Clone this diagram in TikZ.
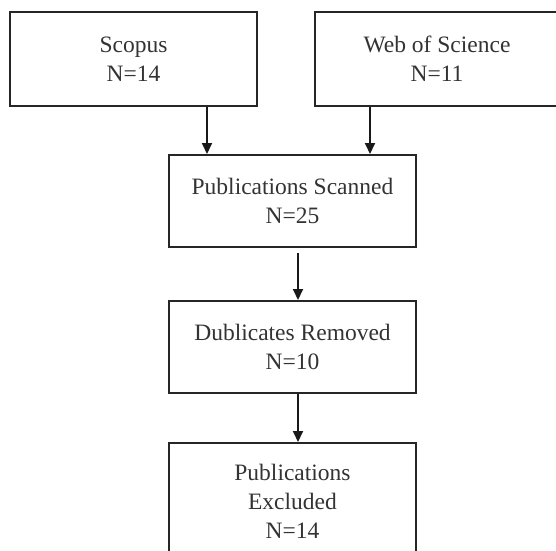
\documentclass[tikz,border=0pt]{standalone}
\usepackage{fontspec}
\setmainfont{Liberation Serif}
\usetikzlibrary{arrows.meta,calc}
\begin{document}
\begin{tikzpicture}[x=1pt,y=1pt,
  box/.style={draw=black!85,line width=2pt,fill=white,align=center,inner sep=0pt,
    font=\fontsize{23.5}{29}\selectfont,text=black!80},
  arr/.style={line width=1.8pt,draw=black!90,-{Triangle[length=11pt,width=10pt]}}]
\useasboundingbox (0,0) rectangle (556,-550);
\clip (0,0) rectangle (556,-550);
\node[box,minimum width=247,minimum height=94] (sco) at (133.5,-59) {Scopus\\N=14};
\node[box,minimum width=244,minimum height=94] (wos) at (437,-59) {Web of Science\\N=11};
\node[box,minimum width=247,minimum height=92] (scan) at (292.5,-201) {Publications Scanned\\N=25};
\node[box,minimum width=247,minimum height=92] (dub) at (292.5,-347) {Dublicates Removed\\N=10};
\node[box,minimum width=247,minimum height=117] (exc) at (292.5,-501.5) {Publications\\Excluded\\N=14};
\draw[arr] ([xshift=73.5]sco.south) -- ([xshift=73.5]sco.south |- scan.north);
\draw[arr] ([xshift=-67]wos.south) -- ([xshift=-67]wos.south |- scan.north);
\draw[arr,shorten <=5pt] ([xshift=5.5]scan.south) -- ([xshift=5.5]scan.south |- dub.north);
\draw[arr] ([xshift=5.5]dub.south) -- ([xshift=5.5]dub.south |- exc.north);
\end{tikzpicture}
\end{document}
